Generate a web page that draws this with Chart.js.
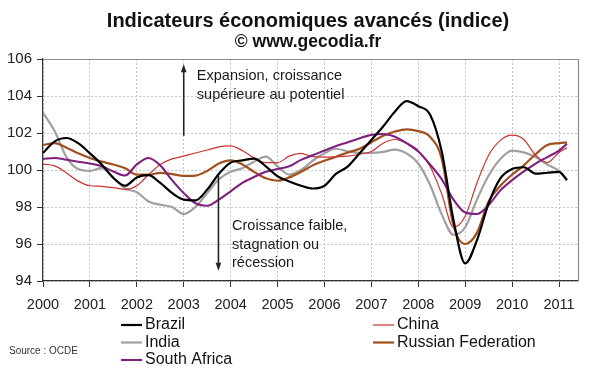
<!DOCTYPE html>
<html><head><meta charset="utf-8">
<script src="https://cdn.jsdelivr.net/npm/chart.js@4.4.1/dist/chart.umd.min.js"></script>
<style>html,body{margin:0;padding:0;background:#fff;}canvas{display:block;}</style>
</head><body>
<canvas id="c" width="600" height="372"></canvas>
<script>
const FONT = '"Liberation Sans", Arial, Helvetica, sans-serif';
const titleText = 'Indicateurs économiques avancés (indice)';
const subtitleText = '© www.gecodia.fr';
const sourceText = 'Source : OCDE';
const upText = ['Expansion, croissance', 'supérieure au potentiel'];
const downText = ['Croissance faible,', 'stagnation ou', 'récession'];

const yearTicks = [2000,2001,2002,2003,2004,2005,2006,2007,2008,2009,2010,2011];
const valueTicks = [94,96,98,100,102,104,106];

const dates = [2000,2000.25,2000.5,2000.75,2001,2001.25,2001.5,2001.75,2002,2002.25,2002.5,2002.75,
  2003,2003.25,2003.5,2003.75,2004,2004.25,2004.5,2004.75,2005,2005.25,2005.5,2005.75,
  2006,2006.25,2006.5,2006.75,2007,2007.25,2007.5,2007.75,2008,2008.25,2008.5,2008.75,
  2009,2009.25,2009.5,2009.75,2010,2010.25,2010.5,2010.75,2011,2011.17];

const brazil = [100.92,101.55,101.73,101.45,100.9,100.3,99.57,99.15,99.6,99.72,99.3,98.76,
  98.4,98.36,98.94,99.8,100.4,100.52,100.62,100.2,99.66,99.38,99.15,99.0,
  99.15,99.8,100.2,100.9,101.62,102.35,103.15,103.72,103.45,103.0,101.0,97.3,
  94.95,96.2,98.2,99.55,100.05,100.15,99.8,99.85,99.9,99.44];

const india = [103.1,102.1,100.7,100.05,99.95,100.1,99.6,99.0,98.8,98.3,98.12,98.0,
  97.62,98.0,98.75,99.5,99.9,100.1,100.45,100.72,100.2,99.75,100.0,100.5,
  100.9,101.15,101.0,100.92,100.92,100.98,101.1,100.9,100.35,99.2,97.6,96.5,
  96.9,98.4,99.7,100.6,101.05,100.95,100.7,100.3,99.95,99.5];

const china = [100.32,100.22,99.84,99.4,99.15,99.12,99.05,98.95,99.15,99.75,100.3,100.6,
  100.75,100.92,101.08,101.25,101.3,101.05,100.65,100.4,100.4,100.75,100.9,100.72,
  100.7,100.72,100.75,100.85,101.0,101.45,101.65,101.45,101.05,100.2,98.7,96.9,
  97.5,99.3,100.8,101.6,101.88,101.65,100.8,100.4,100.95,101.2];

const russia = [101.35,101.45,101.2,100.9,100.65,100.45,100.3,100.1,99.75,99.75,99.85,99.78,
  99.68,99.7,99.95,100.35,100.52,100.3,99.9,99.55,99.42,99.6,99.9,100.25,
  100.5,100.72,100.95,101.15,101.5,101.85,102.08,102.2,102.1,101.8,100.6,97.0,
  96.0,96.6,98.3,99.15,99.75,100.25,100.85,101.35,101.45,101.5];

const southAfrica = [100.6,100.65,100.55,100.45,100.35,100.2,99.92,99.7,100.3,100.65,100.25,99.45,
  98.75,98.2,98.07,98.4,98.85,99.3,99.62,99.9,100.05,100.2,100.55,100.8,
  101.05,101.3,101.5,101.72,101.9,101.95,101.8,101.45,101.0,100.3,99.5,98.4,
  97.7,97.62,98.1,98.9,99.45,99.92,100.35,100.7,101.05,101.42];

const seriesNames = ['Brazil','China','India','Russian Federation','South Africa'];
const seriesValues = [brazil, china, india, russia, southAfrica];
const seriesColors = ['#000000','#cc3333','#a0a0a0','#a0501e','#7f1f7f'];
const seriesWidths = [2.2,1.2,2.2,2.2,2.1];
const seriesOrder = [1,3,5,4,2];
// legend placement: [column,row]
const legendSlots = [[0,0],[1,0],[0,1],[1,1],[0,2]];

const datasets = seriesNames.map((n,i)=>({
  label:n,
  data: dates.map((d,j)=>({x:d,y:seriesValues[i][j]})),
  borderColor:seriesColors[i],
  backgroundColor:seriesColors[i],
  borderWidth:seriesWidths[i],
  pointRadius:0,
  fill:false,
  cubicInterpolationMode:'monotone',
  order:seriesOrder[i]
}));

function arrow(ctx, x, y1, y2){
  const dir = y2 < y1 ? -1 : 1;
  ctx.beginPath(); ctx.moveTo(x, y1); ctx.lineTo(x, y2 - dir*6); ctx.stroke();
  ctx.beginPath(); ctx.moveTo(x, y2); ctx.lineTo(x-2.8, y2 - dir*8); ctx.lineTo(x+2.8, y2 - dir*8); ctx.closePath(); ctx.fill();
}

const deco = {
  id:'deco',
  beforeDraw(chart){
    const c=chart.ctx; c.save(); c.fillStyle='#fff'; c.fillRect(0,0,chart.width,chart.height); c.restore();
  },
  afterDraw(chart){
    const {ctx, chartArea:a, scales:{x,y}} = chart;
    ctx.save();
    // frame top/right
    ctx.strokeStyle='#8a8a8a'; ctx.lineWidth=1.2;
    ctx.beginPath(); ctx.moveTo(a.left, a.top+0.5); ctx.lineTo(a.right+0.5, a.top+0.5); ctx.lineTo(a.right+0.5, a.bottom); ctx.stroke();
    // titles
    ctx.fillStyle='#111'; ctx.textAlign='center'; ctx.textBaseline='alphabetic';
    ctx.font='bold 20px '+FONT; ctx.fillText(titleText, 308, 27);
    ctx.font='bold 17.5px '+FONT; ctx.fillText(subtitleText, 308, 47);
    // arrows
    ctx.strokeStyle='#222'; ctx.fillStyle='#222'; ctx.lineWidth=1.6;
    arrow(ctx, x.getPixelForValue(2003.0), y.getPixelForValue(101.85), y.getPixelForValue(105.72));
    arrow(ctx, x.getPixelForValue(2003.74), y.getPixelForValue(99.75), y.getPixelForValue(94.55));
    // annotation text
    ctx.fillStyle='#1a1a1a'; ctx.textAlign='left'; ctx.textBaseline='middle';
    ctx.font='14.5px '+FONT;
    const upY=[105.06,104.07], dnY=[96.99,95.96,94.97];
    upText.forEach((t,i)=>ctx.fillText(t, x.getPixelForValue(2003.28), y.getPixelForValue(upY[i])));
    downText.forEach((t,i)=>ctx.fillText(t, x.getPixelForValue(2004.03), y.getPixelForValue(dnY[i])));
    // legend
    const colX=[121,373], rowY=[325,342.5,360];
    ctx.font='16px '+FONT; ctx.fillStyle='#111';
    seriesNames.forEach((n,i)=>{
      const [cI,rI]=legendSlots[i]; const lx=colX[cI], ly=rowY[rI];
      ctx.strokeStyle=seriesColors[i]; ctx.lineWidth=seriesWidths[i];
      ctx.beginPath(); ctx.moveTo(lx, ly); ctx.lineTo(lx+21, ly); ctx.stroke();
      ctx.fillStyle='#111'; ctx.fillText(n, lx+24, ly);
    });
    // source
    ctx.font='10px '+FONT; ctx.fillStyle='#333';
    ctx.fillText(sourceText, 9, 351);
    ctx.restore();
  }
};

new Chart(document.getElementById('c'), {
  type:'line',
  data:{datasets},
  options:{
    responsive:false, animation:false, devicePixelRatio:1,
    layout:{padding:{top:59, right:22, left:0, bottom:0}},
    plugins:{legend:{display:false}, tooltip:{enabled:false}, title:{display:false}},
    scales:{
      x:{type:'linear', min:2000, max:2011.405,
        afterBuildTicks:s=>{s.ticks=yearTicks.map(v=>({value:v}));},
        afterFit:s=>{s.height=91;},
        grid:{color:'#c4c4c4', lineWidth:1, tickColor:'#333', tickLength:6, tickBorderDash:[]},
        border:{color:'#333', width:1.2, dash:[2,2]},
        ticks:{font:{family:FONT,size:14.5}, color:'#222', padding:9, maxRotation:0, autoSkip:false, callback:v=>String(v)}
      },
      y:{type:'linear', min:94, max:106,
        afterBuildTicks:s=>{s.ticks=valueTicks.map(v=>({value:v}));},
        afterFit:s=>{s.width=43;},
        grid:{color:'#c4c4c4', lineWidth:1, tickColor:'#333', tickLength:6, tickBorderDash:[]},
        border:{color:'#333', width:1.2, dash:[2,2]},
        ticks:{font:{family:FONT,size:15}, color:'#222', padding:5, callback:v=>String(v)}
      }
    }
  },
  plugins:[deco]
});
</script>
</body></html>
